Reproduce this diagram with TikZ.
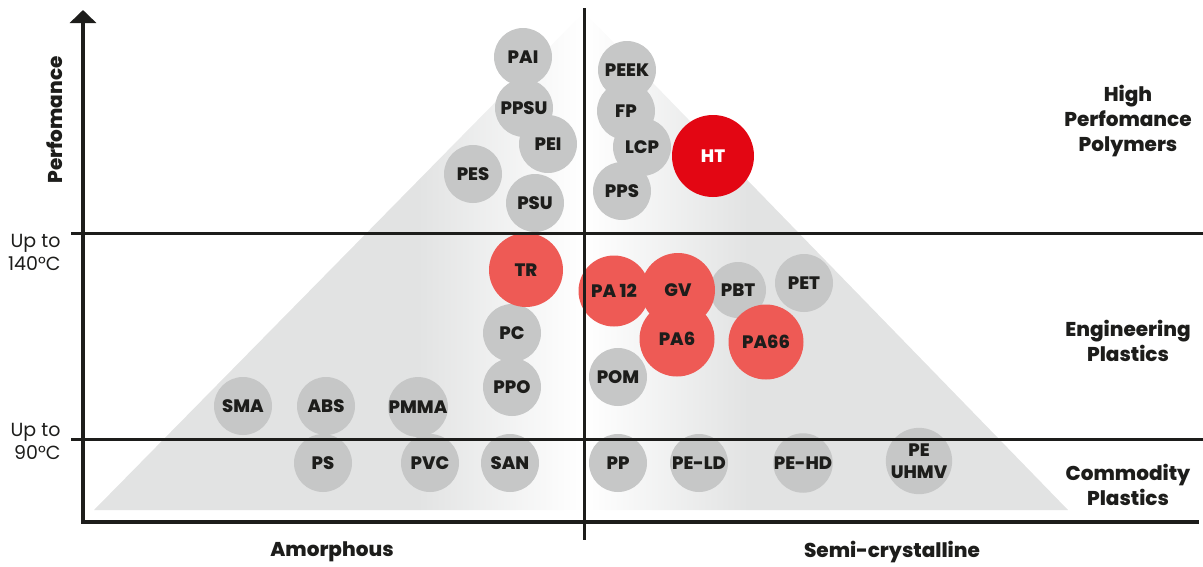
\documentclass[tikz,border=0pt]{standalone}
\usepackage{fontspec}
\setmainfont{Poppins}[BoldFont={Poppins ExtraBold}]
\usetikzlibrary{arrows.meta}
\definecolor{tri}{HTML}{E2E3E3}
\definecolor{polygray}{HTML}{C6C7C7}
\definecolor{polyred}{HTML}{EE5A55}
\definecolor{htred}{HTML}{E30613}
\definecolor{ink}{HTML}{1D1D1B}
\pgfdeclarehorizontalshading{amorphfade}{100bp}{color(0bp)=(tri); color(58bp)=(tri); color(75bp)=(white); color(100bp)=(white)}
\pgfdeclarehorizontalshading{crystfade}{100bp}{color(0bp)=(white); color(25bp)=(white); color(42bp)=(tri); color(100bp)=(tri)}
\tikzset{
  plain/.style={circle, fill=polygray, inner sep=0pt, minimum size=58pt, text=ink,
    font=\fontsize{18}{19}\selectfont\bfseries, align=center},
  hot/.style={plain, fill=polyred, minimum size=75pt},
  hottest/.style={plain, fill=htred, minimum size=82pt, text=white},
  grid/.style={line width=3pt, ink},
  axis/.style={line width=4.5pt, ink},
  tag/.style={text=ink, font=\fontsize{20}{25}\selectfont\bfseries, align=center},
  temp/.style={text=ink, font=\fontsize{19}{23}\selectfont, align=right, anchor=east}
}
\begin{document}
\begin{tikzpicture}[x=1pt, y=-1pt]
      \useasboundingbox (0,0) rectangle (1203,566);
      % triangle
      \shade[shading=amorphfade] (94,510) -- (584,12) -- (584,510) -- cycle;
      \shade[shading=crystfade] (584,12) -- (1068,510) -- (584,510) -- cycle;
      \begin{scope}[every node/.style=plain]
        \path
          (523,57) node (pai){PAI}
          (524,108) node (ppsu){PPSU}
          (548,144) node (pei){PEI}
          (473,174) node (pes){PES}
          (535,203) node (psu){PSU}
          (627,70) node (peek){PEEK}
          (626,111) node (fp){FP}
          (642,147) node (lcp){LCP}
          (622,191) node (pps){PPS}
          (738,290) node[minimum size=56pt] (pbt){PBT}
          (804,283) node (pet){PET}
          (512,333) node (pc){PC}
          (512,387) node (ppo){PPO}
          (618,377) node (pom){POM}
          (243,406) node (sma){SMA}
          (326,406) node (abs){ABS}
          (418,407) node (pmma){PMMA}
          (323,463) node (ps){PS}
          (430,463) node (pvc){PVC}
          (510,463) node (san){SAN}
          (618,463) node (pp){PP}
          (699,463) node (peld){PE-LD}
          (803,463) node (pehd){PE-HD}
          (919,461) node (peuhmv){PE\\[3pt]UHMV};
      \end{scope}
      \begin{scope}[every node/.style=hot]
        \path
          (526,270) node[minimum size=74pt] (tr){TR}
          (614,291) node[minimum size=71pt] (pa12){PA 12}
          (678,290) node[minimum size=74pt] (gv){GV}
          (677,339) node (pa6){PA6}
          (766,342) node (pa66){PA66};
      \end{scope}
      \node[hottest] (ht) at (713,156) {HT};
      % axes and class lines
      \coordinate (ytop) at (83,10);
      \coordinate (origin) at (83,522);
      \coordinate (xend) at (1199,522);
      \coordinate (hpl) at (71,233);
      \coordinate (hpr) at (1203,233);
      \coordinate (epl) at (71,439);
      \coordinate (epr) at (1203,439);
      \coordinate (mtop) at (584,8);
      \coordinate (mbot) at (584,540);
      \draw[grid] (hpl) -- (hpr);
      \draw[grid] (epl) -- (epr);
      \draw[grid] (mtop) -- (mbot);
      \draw[axis, {Triangle[width=26pt,length=13pt]}-] (ytop) -- (origin) -- (xend);
      % labels
      \node[tag, rotate=90] (perf) at (55,120) {Perfomance};
      \node[temp] (t140) at (64,252) {Up to\\140°C};
      \node[temp] (t90) at (64,441) {Up to\\90°C};
      \node[tag] (hpp) at (1128,121) {High\\Perfomance\\Polymers};
      \node[tag] (eng) at (1128,341) {Engineering\\Plastics};
      \node[tag] (com) at (1128,485) {Commodity\\Plastics};
      \node[tag] (amo) at (332,552) {Amorphous};
      \node[tag] (semi) at (892,552) {Semi-crystalline};
    \end{tikzpicture}
\end{document}
